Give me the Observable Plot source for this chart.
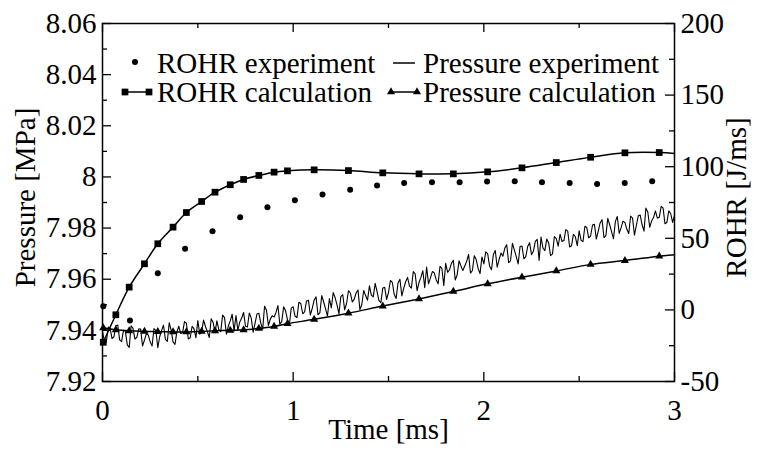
<!DOCTYPE html>
<html>
<head>
<meta charset="utf-8">
<script src="https://cdn.jsdelivr.net/npm/d3@7"></script>
<script src="https://cdn.jsdelivr.net/npm/@observablehq/plot@0.6"></script>
<style>
  html, body { margin: 0; padding: 0; background: #fff; }
  #chart svg { display: block; }
  #chart svg text { font-family: "Liberation Serif", "Times New Roman", serif !important; font-variant: normal !important; }
</style>
</head>
<body>
<div id="chart"></div>
<script>
// ---------------- data ----------------
const xTicks = [0, 1, 2, 3];
const xTickLabels = ["0", "1", "2", "3"];
const xMinorTicks = [0.5, 1.5, 2.5];

const pTicks = [7.92, 7.94, 7.96, 7.98, 8.00, 8.02, 8.04, 8.06];
const pTickLabels = ["7.92", "7.94", "7.96", "7.98", "8", "8.02", "8.04", "8.06"];
const pMinorTicks = [7.93, 7.95, 7.97, 7.99, 8.01, 8.03, 8.05];

const rohrTicks = [-50, 0, 50, 100, 150, 200];
const rohrTickLabels = ["-50", "0", "50", "100", "150", "200"];
const rohrMinorTicks = [-25, 25, 75, 125, 175];
const rohrDomain = [-50, 200];
const pDomain = [7.92, 8.06];

// ROHR experiment (dots)
const rohrExpTime = [0.004, 0.144, 0.29, 0.433, 0.577, 0.722, 0.865, 1.009, 1.154, 1.299, 1.44,
  1.582, 1.728, 1.873, 2.017, 2.162, 2.305, 2.45, 2.594, 2.739, 2.883];
const rohrExp = [2.6, -7.4, 25.6, 42.7, 55, 64.7, 71.7, 76.6, 80.6, 83.9, 86.9,
  88.7, 89.2, 89.2, 89.7, 89.9, 89.2, 88.7, 88.0, 88.7, 89.9];

// calculation marker times (shared by both calculated curves), last value = curve end
const calcTime = [0.004, 0.07, 0.14, 0.22, 0.29, 0.37, 0.44, 0.52, 0.59, 0.67, 0.74, 0.82, 0.90, 0.97,
  1.11, 1.29, 1.47, 1.66, 1.84, 2.02, 2.20, 2.38, 2.56, 2.74, 2.92, 3.0];
const rohrCalc = [-22.6, -3.4, 15.9, 32.2, 46.2, 57.8, 68.0, 75.7, 82.2, 87.4, 91.1, 93.9, 96.2, 97.1,
  97.8, 97.3, 95.7, 95.0, 95.0, 96.4, 99.2, 102.9, 106.6, 109.7, 109.9, 109.2];
const pressureCalc = [7.9410, 7.9402, 7.9398, 7.9396, 7.9395, 7.9394, 7.9394, 7.9396, 7.9398, 7.9400, 7.9402, 7.9408, 7.9415, 7.9426,
  7.9443, 7.9467, 7.9495, 7.9523, 7.9552, 7.9582, 7.9608, 7.9632, 7.9658, 7.9673, 7.9690, 7.9696];
const calcMarkerCount = 25;

// Pressure experiment (noisy line), sampled every 0.01 ms from 0 to 3 ms
const pressureExpStep = 0.01;
const pressureExp = [
  7.9395, 7.9358, 7.9353, 7.9413, 7.9408, 7.9368, 7.9375, 7.9418, 7.9421, 7.9363,
  7.9356, 7.9400, 7.9396, 7.9343, 7.9333, 7.9418, 7.9408, 7.9366, 7.9373, 7.9406,
  7.9405, 7.9339, 7.9362, 7.9387, 7.9382, 7.9355, 7.9339, 7.9407, 7.9399, 7.9332,
  7.9375, 7.9400, 7.9420, 7.9365, 7.9357, 7.9430, 7.9400, 7.9355, 7.9345, 7.9393,
  7.9416, 7.9388, 7.9391, 7.9434, 7.9428, 7.9366, 7.9371, 7.9416, 7.9406, 7.9371,
  7.9438, 7.9385, 7.9395, 7.9440, 7.9415, 7.9395, 7.9372, 7.9445, 7.9432, 7.9390,
  7.9437, 7.9403, 7.9395, 7.9460, 7.9450, 7.9385, 7.9417, 7.9437, 7.9463, 7.9397,
  7.9458, 7.9400, 7.9433, 7.9448, 7.9470, 7.9416, 7.9413, 7.9468, 7.9448, 7.9393,
  7.9427, 7.9464, 7.9467, 7.9429, 7.9404, 7.9494, 7.9479, 7.9419, 7.9444, 7.9457,
  7.9452, 7.9470, 7.9497, 7.9424, 7.9434, 7.9492, 7.9477, 7.9442, 7.9422, 7.9487,
  7.9492, 7.9455, 7.9450, 7.9510, 7.9505, 7.9465, 7.9472, 7.9515, 7.9518, 7.9460,
  7.9486, 7.9518, 7.9531, 7.9461, 7.9468, 7.9536, 7.9511, 7.9484, 7.9456, 7.9524,
  7.9488, 7.9548, 7.9528, 7.9500, 7.9465, 7.9532, 7.9540, 7.9480, 7.9505, 7.9555,
  7.9546, 7.9511, 7.9521, 7.9546, 7.9558, 7.9481, 7.9501, 7.9556, 7.9536, 7.9518,
  7.9574, 7.9538, 7.9531, 7.9584, 7.9551, 7.9516, 7.9508, 7.9566, 7.9568, 7.9521,
  7.9548, 7.9595, 7.9588, 7.9540, 7.9525, 7.9585, 7.9600, 7.9535, 7.9565, 7.9590,
  7.9607, 7.9573, 7.9565, 7.9630, 7.9620, 7.9555, 7.9587, 7.9607, 7.9633, 7.9567,
  7.9648, 7.9582, 7.9605, 7.9630, 7.9625, 7.9598, 7.9582, 7.9650, 7.9642, 7.9575,
  7.9662, 7.9627, 7.9637, 7.9662, 7.9674, 7.9597, 7.9617, 7.9672, 7.9652, 7.9634,
  7.9652, 7.9670, 7.9697, 7.9624, 7.9634, 7.9692, 7.9677, 7.9642, 7.9622, 7.9687,
  7.9660, 7.9707, 7.9700, 7.9652, 7.9637, 7.9697, 7.9712, 7.9647, 7.9677, 7.9702,
  7.9690, 7.9722, 7.9735, 7.9665, 7.9672, 7.9740, 7.9715, 7.9688, 7.9660, 7.9728,
  7.9730, 7.9680, 7.9688, 7.9728, 7.9743, 7.9696, 7.9710, 7.9748, 7.9756, 7.9673,
  7.9765, 7.9722, 7.9712, 7.9757, 7.9742, 7.9692, 7.9699, 7.9767, 7.9759, 7.9729,
  7.9776, 7.9748, 7.9751, 7.9794, 7.9788, 7.9726, 7.9731, 7.9776, 7.9766, 7.9731,
  7.9789, 7.9752, 7.9747, 7.9807, 7.9802, 7.9762, 7.9769, 7.9812, 7.9815, 7.9757,
  7.9788, 7.9820, 7.9833, 7.9763, 7.9770, 7.9838, 7.9813, 7.9786, 7.9758, 7.9826,
  7.9845, 7.9779, 7.9802, 7.9827, 7.9822, 7.9795, 7.9779, 7.9847, 7.9839, 7.9772,
  7.9811, 7.9848, 7.9851, 7.9813, 7.9788, 7.9878, 7.9863, 7.9803, 7.9828, 7.9841,
  7.9867, 7.9839, 7.9842, 7.9885, 7.9879, 7.9817, 7.9822, 7.9867, 7.9857, 7.9822,
  7.9850
];

const legendLabels = ["ROHR experiment", "Pressure experiment", "ROHR calculation", "Pressure calculation"];
const xTitle = "Time [ms]";
const yLeftTitle = "Pressure [MPa]";
const yRightTitle = "ROHR [J/ms]";

// ---------------- layout ----------------
const W = 761, H = 450;
const mL = 102, mR = 87, mT = 23, mB = 69;
const plotW = W - mL - mR, plotH = H - mT - mB;
const FONT = "Liberation Serif";
const FS = 29;
const majorLen = 9, minorLen = 5;

// map ROHR values onto the pressure axis (secondary axis)
const rohrToP = d3.scaleLinear().domain(rohrDomain).range(pDomain);

const rohrExpData = rohrExp.map((v, i) => ({t: rohrExpTime[i], y: rohrToP(v)}));
const rohrCalcData = rohrCalc.map((v, i) => ({t: calcTime[i], y: rohrToP(v)}));
const pCalcData = pressureCalc.map((v, i) => ({t: calcTime[i], y: v}));
const pExpData = pressureExp.map((v, i) => ({t: i * pressureExpStep, y: v}));

const lookup = (vals, labels) => d => {
  let best = 0;
  vals.forEach((v, i) => { if (Math.abs(v - d) < Math.abs(vals[best] - d)) best = i; });
  return labels[best];
};

function legendMark(index, scales, values, dims) {
  const g = d3.create("svg:g")
    .attr("font-family", FONT).attr("font-size", FS).attr("fill", "black")
    .attr("text-anchor", "start");
  const col = [{m: 137, t: 157}, {m: 404, t: 423}];
  const row = [{c: 62, b: 73}, {c: 92, b: 102}];
  const items = [[0, 0], [1, 0], [0, 1], [1, 1]];
  items.forEach(([c, r], k) => {
    g.append("text").attr("x", col[c].t).attr("y", row[r].b)
      .attr("text-anchor", "start").text(legendLabels[k]);
  });
  // ROHR experiment: dot
  g.append("circle").attr("cx", col[0].m - 2).attr("cy", row[0].c).attr("r", 3).attr("fill", "black");
  // Pressure experiment: short line
  g.append("line").attr("x1", col[1].m - 11).attr("x2", col[1].m + 11)
    .attr("y1", row[0].c + 1).attr("y2", row[0].c + 1).attr("stroke", "black").attr("stroke-width", 1.5);
  // ROHR calculation: line with squares
  g.append("line").attr("x1", col[0].m - 12).attr("x2", col[0].m + 12)
    .attr("y1", row[1].c).attr("y2", row[1].c).attr("stroke", "black").attr("stroke-width", 1.5);
  const sq = d3.symbol(d3.symbolSquare, Math.PI * 3.8 * 3.8)();
  [-12, 12].forEach(dx => g.append("path").attr("d", sq)
    .attr("transform", `translate(${col[0].m + dx},${row[1].c})`));
  // Pressure calculation: line with triangles
  g.append("line").attr("x1", col[1].m - 13).attr("x2", col[1].m + 13)
    .attr("y1", row[1].c).attr("y2", row[1].c).attr("stroke", "black").attr("stroke-width", 1.5);
  const tri = d3.symbol(d3.symbolTriangle, Math.PI * 3 * 3)();
  [-13, 13].forEach(dx => g.append("path").attr("d", tri)
    .attr("transform", `translate(${col[1].m + dx},${row[1].c})`));
  return g.node();
}

const axisText = {fontSize: FS, fontFamily: FONT, fontVariant: "normal", label: null, tickSize: 0};

const chart = Plot.plot({
  width: W, height: H,
  marginLeft: mL, marginRight: mR, marginTop: mT, marginBottom: mB,
  style: {fontFamily: FONT, fontSize: FS + "px", background: "white", color: "black"},
  x: {domain: [0, 3]},
  y: {domain: pDomain},
  marks: [
    Plot.axisX({anchor: "bottom", ticks: xTicks, tickPadding: 18,
      tickFormat: lookup(xTicks, xTickLabels), ...axisText}),
    Plot.axisY({anchor: "left", ticks: pTicks, tickPadding: 6,
      tickFormat: lookup(pTicks, pTickLabels), ...axisText}),
    Plot.axisY({anchor: "right", ticks: rohrTicks.map(rohrToP), tickPadding: 6,
      tickFormat: lookup(rohrTicks.map(rohrToP), rohrTickLabels), ...axisText}),
    // inward ticks
    Plot.tickY(pTicks, {y: d => d, insetRight: plotW - majorLen, strokeWidth: 1.3}),
    Plot.tickY(pMinorTicks, {y: d => d, insetRight: plotW - minorLen, strokeWidth: 1.3}),
    Plot.tickY(rohrTicks.map(rohrToP), {y: d => d, insetLeft: plotW - majorLen, strokeWidth: 1.3}),
    Plot.tickY(rohrMinorTicks.map(rohrToP), {y: d => d, insetLeft: plotW - minorLen, strokeWidth: 1.3}),
    Plot.tickX(xTicks, {x: d => d, insetTop: plotH - majorLen, strokeWidth: 1.3}),
    Plot.tickX(xMinorTicks, {x: d => d, insetTop: plotH - minorLen, strokeWidth: 1.3}),
    Plot.tickX(xTicks, {x: d => d, insetBottom: plotH - majorLen, strokeWidth: 1.3}),
    Plot.tickX(xMinorTicks, {x: d => d, insetBottom: plotH - minorLen, strokeWidth: 1.3}),
    // titles
    Plot.text([xTitle], {frameAnchor: "bottom", dy: 57, fontSize: FS, fontFamily: FONT}),
    Plot.text([yLeftTitle], {frameAnchor: "left", textAnchor: "middle", dx: -77, dy: -5, rotate: -90, fontSize: FS, fontFamily: FONT}),
    Plot.text([yRightTitle], {frameAnchor: "right", textAnchor: "middle", dx: 62, dy: -5, rotate: -90, fontSize: FS, fontFamily: FONT}),
    // data
    Plot.line(pExpData, {x: "t", y: "y", stroke: "black", strokeWidth: 1.1}),
    Plot.line(pCalcData, {x: "t", y: "y", stroke: "black", strokeWidth: 1.5, curve: "catmull-rom"}),
    Plot.dot(pCalcData.slice(0, calcMarkerCount), {x: "t", y: "y", symbol: "triangle", r: 3, fill: "black", stroke: "none"}),
    Plot.line(rohrCalcData, {x: "t", y: "y", stroke: "black", strokeWidth: 1.5, curve: "catmull-rom"}),
    Plot.dot(rohrCalcData.slice(0, calcMarkerCount), {x: "t", y: "y", symbol: "square", r: 3.8, fill: "black", stroke: "none"}),
    Plot.dot(rohrExpData, {x: "t", y: "y", r: 3, fill: "black", stroke: "none"}),
    Plot.frame({stroke: "black", strokeWidth: 1.5}),
    legendMark
  ]
});
document.getElementById("chart").appendChild(chart);
</script>
</body>
</html>
